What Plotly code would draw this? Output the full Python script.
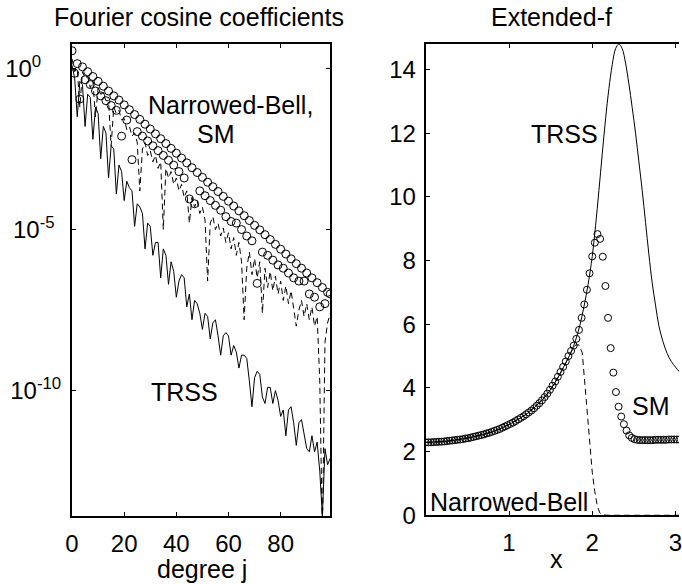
import numpy as np
import plotly.graph_objects as go

# ---------------- Left panel data: |Fourier cosine coefficient|, log10 values ----------------
degree_j = list(range(100))

trss_coef_log10 = [
    0.1, -0.3, -1.5, -0.4, -0.5, -1.8, -0.8, -0.9, -2.2, -1.2,
    -1.4, -2.8, -1.8, -2.0, -3.4, -2.4, -2.5, -3.9, -3.0, -3.2,
    -4.1, -3.5, -3.7, -3.8, -4.9, -4.2, -4.3, -4.5, -5.6, -4.8,
    -4.9, -5.8, -5.4, -5.4, -6.5, -5.6, -5.8, -6.7, -6.0, -6.3,
    -7.1, -6.6, -6.4, -6.5, -7.4, -7.0, -7.8, -7.2, -7.3, -7.6,
    -8.1, -7.6, -7.7, -8.4, -7.9, -7.8, -8.3, -8.9, -8.3, -8.2,
    -8.3, -8.9, -8.6, -8.8, -9.3, -8.9, -8.9, -9.0, -9.7, -10.5,
    -9.6, -9.4, -9.5, -10.2, -10.4, -9.9, -9.9, -10.4, -10.0, -10.3,
    -10.8, -10.6, -11.4, -10.6, -10.5, -11.0, -11.7, -11.0, -10.9, -11.3,
    -11.8, -11.9, -11.4, -11.9, -11.6, -12.5, -13.9, -11.8, -12.3, -12.1,
]

bell_coef_log10 = [
    0.3, -0.1, 0.0, -1.2, -0.1, -0.3, -0.25, -0.6, -0.4, -1.5,
    -0.6, -0.8, -0.75, -1.0, -1.0, -2.4, -1.2, -1.4, -1.3, -1.6,
    -1.55, -1.9, -1.8, -2.1, -2.0, -2.3, -3.8, -2.5, -2.3, -2.7,
    -2.55, -2.9, -2.7, -3.1, -2.9, -5.0, -3.1, -3.4, -3.2, -3.6,
    -3.4, -3.8, -3.6, -4.0, -3.8, -4.8, -4.0, -4.3, -4.1, -4.5,
    -4.3, -4.7, -6.6, -4.8, -4.6, -5.0, -4.8, -5.2, -4.95, -5.4,
    -5.1, -5.6, -5.25, -5.8, -5.4, -6.0, -7.8, -6.2, -5.7, -6.4,
    -5.9, -6.5, -6.0, -7.6, -6.2, -6.8, -6.3, -6.9, -6.45, -7.0,
    -6.6, -7.2, -6.75, -7.3, -6.9, -7.4, -8.0, -7.5, -7.2, -7.7,
    -7.3, -7.8, -7.4, -8.0, -7.7, -9.7, -14.5, -8.5, -7.9, -7.6,
]

sm_coef_log10 = [
    0.55, -0.15, 0.15, -0.95, 0.05, -0.35, -0.1, -0.5, -0.25, -0.7,
    -0.4, -0.85, -0.55, -1.0, -0.7, -1.15, -0.85, -1.3, -0.98, -2.1,
    -1.13, -1.6, -1.28, -2.83, -1.43, -1.96, -1.58, -2.1, -1.73, -2.25,
    -1.88, -2.4, -2.03, -2.55, -2.18, -2.7, -2.33, -2.85, -2.48, -3.0,
    -2.63, -3.2, -2.78, -3.4, -2.93, -4.05, -3.08, -4.2, -3.23, -3.8,
    -3.38, -3.95, -3.53, -4.1, -3.67, -4.25, -3.82, -4.4, -3.97, -4.6,
    -4.12, -4.75, -4.27, -4.8, -4.42, -5.0, -4.57, -5.2, -4.72, -5.35,
    -4.87, -6.67, -5.01, -5.7, -5.16, -5.8, -5.31, -5.95, -5.46, -6.1,
    -5.61, -6.2, -5.76, -6.35, -5.91, -6.5, -6.06, -6.6, -6.2, -6.6,
    -6.35, -7.0, -6.5, -7.1, -6.65, -7.4, -6.8, -7.3, -6.95, -7.0,
]

# ---------------- Right panel data: extended f(x) ----------------
sm_f = [
    2.29, 2.29, 2.29, 2.30, 2.30, 2.31, 2.31, 2.32, 2.33, 2.34,
    2.35, 2.36, 2.37, 2.38, 2.39, 2.41, 2.42, 2.44, 2.46, 2.48,
    2.50, 2.52, 2.54, 2.57, 2.59, 2.62, 2.65, 2.68, 2.71, 2.75,
    2.79, 2.83, 2.87, 2.91, 2.96, 3.01, 3.06, 3.11, 3.17, 3.23,
    3.29, 3.36, 3.44, 3.52, 3.61, 3.71, 3.82, 3.94, 4.07, 4.20,
    4.35, 4.50, 4.66, 4.83, 5.00, 5.16, 5.33, 5.54, 5.82, 6.20,
    6.62, 7.08, 7.60, 8.13, 8.56, 8.83, 8.68, 8.12, 7.20, 6.20,
    5.25, 4.48, 3.87, 3.41, 3.10, 2.86, 2.66, 2.51, 2.43, 2.39,
    2.37, 2.36, 2.36, 2.36, 2.36, 2.36, 2.36, 2.37, 2.37, 2.37,
    2.37, 2.37, 2.38, 2.38, 2.38, 2.38, 2.38,
]
sm_x = np.linspace(0, np.pi, 100)[:len(sm_f)]

trss_x = [0, 0.2, 0.4, 0.6, 0.8, 1.0, 1.1, 1.2, 1.3, 1.4, 1.5, 1.6, 1.7, 1.75, 1.8,
          1.85, 1.9, 1.95, 2.0, 2.04, 2.08, 2.12, 2.16, 2.20, 2.24, 2.28, 2.32, 2.36,
          2.40, 2.44, 2.48, 2.52, 2.56, 2.60, 2.64, 2.68, 2.72, 2.76, 2.80, 2.85, 2.90,
          2.95, 3.00, 3.05]
trss_f = [2.29, 2.31, 2.38, 2.48, 2.62, 2.85, 3.0, 3.16, 3.37, 3.62, 3.95, 4.38, 4.88,
          5.15, 5.5, 5.95, 6.55, 7.25, 8.13, 9.1, 10.2, 11.35, 12.45, 13.4, 14.15, 14.65,
          14.8, 14.65, 14.2, 13.55, 12.8, 12.0, 11.1, 10.2, 9.2, 8.2, 7.3, 6.6, 5.95,
          5.45, 5.08, 4.83, 4.65, 4.5]

bell_x = [0, 0.2, 0.4, 0.6, 0.8, 1.0, 1.2, 1.4, 1.5, 1.6, 1.7, 1.75, 1.8, 1.84, 1.88,
          1.91, 1.94, 1.97, 2.0, 2.03, 2.06, 2.09, 2.12, 2.2, 3.1]
bell_f = [2.29, 2.31, 2.38, 2.48, 2.62, 2.85, 3.16, 3.62, 3.95, 4.38, 4.88, 5.15, 5.35,
          5.35, 5.1, 4.2, 3.2, 2.25, 1.35, 0.75, 0.3, 0.08, 0.01, 0.0, 0.0]

NB = "\u00a0"
left_yticks = [1e0, 1e-5, 1e-10]
left_yticktext = ["10<sup>0</sup>" + NB * 3, "10<sup>-5</sup>" + NB, "10<sup>-10</sup>"]
left_xticks = [0, 20, 40, 60, 80]
right_xticks = [1, 2, 3]
right_yticks = [0, 2, 4, 6, 8, 10, 12, 14]

# ---------------- Figure ----------------
W, H = 682, 584
FONT = "Liberation Sans, Arial, Helvetica, sans-serif"
fig = go.Figure()

def px(v):
    return v / W

def py(v):
    return 1 - v / H

# left panel
fig.add_trace(go.Scatter(x=degree_j, y=[10 ** v for v in trss_coef_log10], mode="lines",
                         line=dict(color="black", width=1), xaxis="x", yaxis="y"))
fig.add_trace(go.Scatter(x=degree_j, y=[10 ** v for v in bell_coef_log10], mode="lines",
                         line=dict(color="black", width=1, dash="6px,4px"), xaxis="x", yaxis="y"))
fig.add_trace(go.Scatter(x=degree_j, y=[10 ** v for v in sm_coef_log10], mode="markers",
                         marker=dict(symbol="circle-open", size=8, color="black", line=dict(width=1)),
                         xaxis="x", yaxis="y"))

# right panel
fig.add_trace(go.Scatter(x=trss_x, y=trss_f, mode="lines", line=dict(color="black", width=1, shape="spline"),
                         xaxis="x2", yaxis="y2"))
fig.add_trace(go.Scatter(x=bell_x, y=bell_f, mode="lines", line=dict(color="black", width=1, dash="6px,4px"),
                         xaxis="x2", yaxis="y2"))
fig.add_trace(go.Scatter(x=sm_x, y=sm_f, mode="markers",
                         marker=dict(symbol="circle-open", size=7, color="black", line=dict(width=1)),
                         xaxis="x2", yaxis="y2"))

axis_common = dict(showgrid=False, zeroline=False, showline=True, linecolor="black", linewidth=2,
                   ticks="inside", ticklen=4, tickwidth=1, tickcolor="black",
                   ticklabeloverflow="allow",
                   tickfont=dict(family=FONT, size=24, color="black"))

fig.update_layout(
    width=W, height=H,
    margin=dict(l=0, r=0, t=0, b=0),
    paper_bgcolor="white", plot_bgcolor="white",
    showlegend=False,
    xaxis=dict(domain=[px(66), px(328)], range=[0, 99], tickvals=left_xticks,
               mirror="ticks", anchor="y", ticklabelstandoff=5, **axis_common),
    yaxis=dict(domain=[py(528), py(45)], type="log", range=[-13.9, 0.76], tickvals=left_yticks,
               ticktext=left_yticktext, mirror="ticks", anchor="x", ticklabelstandoff=4, **axis_common),
    xaxis2=dict(domain=[px(425), 1.0], range=[0, 3.042], tickvals=right_xticks,
                mirror="ticks", anchor="y2", ticklabelstandoff=5, **axis_common),
    yaxis2=dict(domain=[py(527), py(45)], range=[0, 14.8], tickvals=right_yticks,
                mirror=False, anchor="x2", ticklabelstandoff=3, **axis_common),
)

def label(text, x, y, size=25, yanchor="middle"):
    fig.add_annotation(text=text, x=px(x), y=py(y), xref="paper", yref="paper",
                       showarrow=False, xanchor="center", yanchor=yanchor,
                       font=dict(family=FONT, size=size, color="black"))

label("Fourier cosine coefficients", 195, 17)
label("Extended-f", 553, 17)
label("degree j", 198, 582, yanchor="middle")
label("x", 558, 572)
label("Narrowed-Bell,", 227, 107)
label("SM", 212, 137)
label("TRSS", 180, 401)
label("TRSS", 566, 137)
label("SM", 654, 415)
label("Narrowed-Bell", 509, 513)

fig.write_html("out.html")
